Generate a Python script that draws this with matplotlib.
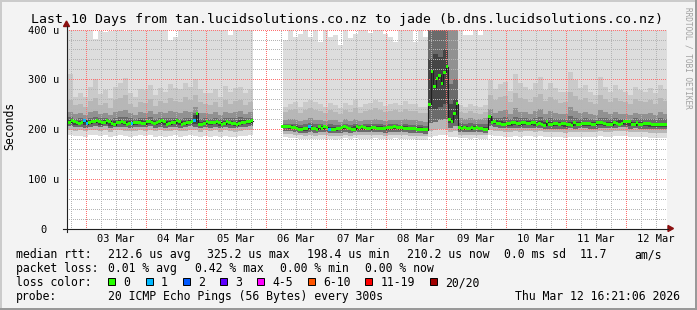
import numpy as np
import pandas as pd
import matplotlib
matplotlib.use("Agg")
import matplotlib.pyplot as plt
import matplotlib.dates as mdates
import matplotlib.transforms as mtrans
from matplotlib.patches import Polygon, Rectangle
from matplotlib.lines import Line2D

W, H = 697, 310
MONO = "DejaVu Sans Mono"

# ---------------- data ----------------
# median rtt per hour (us), first value is 2026-03-02 16:00, None = no data
median_rtt = [
    213, 214, 217, 216, 213, 212, 214, 218, 211, 213, 215, 215,
    217, 216, 213, 213, 218, 216, 212, 209, 214, 214, 215, 214,
    210, 212, 211, 214, 214, 214, 212, 211, 215, 216, 213, 212,
    214, 215, 217, 215, 210, 211, 213, 213, 217, 215, 210, 211,
    213, 214, 216, 217, 232, 210, 210, 212, 215, 214, 214, 213,
    215, 214, 210, 211, 215, 214, 212, 211, 209, 212, 213, 214,
    216, 215, 217,
] + [None] * 11 + [
    206, 206, 205, 205, 204, 203, 202, 200, 200, 201, 202, 205,
    202, 201, 200, 205, 202, 205, 204, 199, 200, 200, 201, 202,
    203, 205, 204, 201, 200, 200, 205, 204, 205, 204,
    202, 201, 204, 203, 202, 201, 202, 201, 203, 204, 204, 205,
    203, 204, 203, 202, 201, 202, 201, 201, 200, 200, 199, 198.4, 199,
    250, 316, 285, 302, 308, 291, 314, 325.2, 220, 215, 231, 251,
    203, 202, 203, 202, 201, 203, 202, 203, 201, 202, 200, 200,
    226,
    214, 215, 212, 212, 210, 210, 212, 211, 214, 213, 212, 211,
    214, 213, 212, 211, 214, 213, 210, 211, 209, 208, 215, 209,
    209, 211, 212, 210, 211, 211,
    210, 209, 208, 213, 210, 210, 211, 211, 212, 211, 210, 210,
    213, 213, 213, 211, 210, 210, 209, 214, 211, 210, 212, 216,
    215, 215, 210, 209, 213, 210, 210, 212, 211, 211, 210, 210,
    210, 210, 210, 210, 210.2,
]

# hours (index into median_rtt) with lost pings, loss in %
loss_hours = [7, 8, 26, 51, 97, 105]
loss_pct = [0.42, 0.42, 0.42, 0.42, 0.42, 0.42]

# smoke: sorted ping rtt (us) per 2 hour slot, first slot 2026-03-02 15:00
GAP = [None] * 6
ping_20 = ([450, 450, 450, 450, 450, 450, 382, 398, 396, 398, 450, 450, 397,
            450, 450, 450, 450, 450, 450, 450, 450, 380, 386, 450, 450, 450,
            450, 450, 450, 450, 450, 450, 450, 389, 450, 450, 450, 450] + GAP +
           [379, 450, 385, 392, 450, 386, 450, 376, 450, 385, 390, 369, 450,
            383, 392, 450, 450, 394, 450, 450, 392, 385, 376, 450, 450, 450,
            376, 450, 386] +
           [500] * 6 + [450, 389, 390, 450, 390, 450] + [450] * 36)
ping_19 = ([320, 310, 265, 272, 265, 285, 300, 270, 278, 262, 285, 292, 302,
            272, 264, 280, 278, 288, 268, 282, 275, 290, 282, 280, 292, 285,
            300, 280, 272, 272, 280, 265, 286, 275, 282, 285, 272, 280] + GAP +
           [245, 250, 255, 245, 255, 258, 255, 250, 245, 252, 248, 243, 252,
            248, 258, 245, 250, 253, 258, 254, 247, 250, 252, 249, 256, 250,
            250, 244, 245] +
           [500] * 6 + [248, 245, 250, 246, 244, 248] +
           [299, 280, 290, 295, 276, 310, 292, 285, 279, 292, 305, 279, 292,
            282, 275, 275, 315, 299, 282, 289, 275, 269, 305, 285, 275, 289,
            279, 275, 269, 285, 279, 275, 282, 272, 289, 280])
ping_18 = ([262, 258, 248, 250, 244, 256, 262, 248, 252, 242, 258, 262, 268,
            250, 244, 255, 252, 260, 246, 256, 252, 262, 256, 254, 264, 258,
            268, 254, 250, 248, 255, 244, 258, 250, 256, 258, 248, 254] + GAP +
           [234, 238, 240, 232, 238, 242, 238, 236, 232, 238, 235, 230, 238,
            234, 242, 232, 236, 238, 242, 238, 234, 236, 238, 235, 240, 236,
            236, 232, 232] +
           [500] * 6 + [234, 232, 236, 233, 231, 234] +
           [268, 258, 264, 266, 254, 272, 262, 260, 255, 264, 270, 256, 264,
            258, 252, 254, 275, 266, 258, 262, 254, 250, 268, 260, 254, 262,
            256, 254, 250, 260, 256, 254, 258, 250, 262, 256])
ping_16 = ([236, 234, 230, 232, 229, 234, 236, 231, 233, 228, 234, 236, 238,
            232, 229, 234, 232, 236, 230, 234, 232, 236, 234, 232, 236, 234,
            245, 232, 233, 231, 234, 229, 235, 232, 234, 236, 231, 234] + GAP +
           [218, 220, 221, 216, 219, 222, 219, 218, 216, 219, 218, 215, 220,
            217, 221, 216, 219, 219, 221, 219, 217, 218, 219, 218, 220, 218,
            218, 216, 215] +
           [500, 500, 500, 500, 450, 450] + [222, 221, 223, 221, 220, 222] +
           [240, 232, 236, 238, 230, 242, 235, 234, 231, 236, 240, 231, 236,
            233, 230, 230, 244, 236, 232, 234, 230, 228, 238, 234, 230, 235,
            231, 230, 228, 233, 231, 230, 232, 229, 235, 231])
ping_14 = ([224, 224, 221, 222, 221, 223, 224, 222, 223, 220, 223, 224, 224,
            222, 221, 223, 222, 224, 221, 223, 222, 223, 223, 221, 223, 223,
            232, 221, 222, 221, 223, 220, 223, 222, 222, 224, 222, 223] + GAP +
           [210, 211, 211, 208, 210, 212, 210, 210, 209, 210, 209, 208, 211,
            209, 211, 209, 210, 210, 211, 210, 209, 210, 210, 209, 210, 209,
            209, 208, 207] +
           [420, 430, 425, 430, 290, 300] + [212, 211, 212, 211, 210, 211] +
           [226, 222, 223, 224, 220, 225, 222, 222, 221, 222, 224, 220, 222,
            221, 220, 220, 226, 222, 221, 222, 220, 219, 223, 222, 220, 222,
            221, 220, 219, 222, 221, 220, 221, 220, 222, 220])
ping_12 = ([218, 219, 216, 217, 216, 218, 219, 217, 218, 215, 217, 218, 217,
            216, 216, 218, 217, 219, 216, 218, 216, 217, 218, 216, 217, 219,
            228, 215, 217, 216, 217, 215, 217, 216, 215, 218, 218, 219] + GAP +
           [209, 208, 207, 205, 204, 206, 205, 206, 206, 205, 204, 205, 207,
            205, 207, 206, 206, 206, 207, 206, 205, 206, 207, 206, 206, 205,
            205, 204, 203] +
           [340, 350, 345, 360, 250, 260] + [206, 206, 205, 206, 205, 204] +
           [222, 218, 216, 215, 214, 216, 215, 216, 216, 215, 216, 214, 214,
            214, 214, 213, 214, 214, 215, 215, 214, 214, 216, 215, 215, 216,
            218, 217, 214, 215, 214, 214, 213, 213, 213, 213])
ping_09 = ([210, 211, 209, 210, 208, 210, 212, 209, 211, 207, 210, 210, 209,
            208, 209, 210, 209, 211, 208, 210, 208, 209, 210, 208, 209, 211,
            210, 207, 210, 208, 210, 207, 210, 208, 207, 209, 210, 211] + GAP +
           [202, 201, 200, 198, 197, 199, 198, 199, 199, 198, 197, 198, 200,
            198, 200, 199, 199, 199, 200, 199, 198, 199, 200, 199, 199, 198,
            198, 197, 196] +
           [240, 240, 245, 250, 212, 218] + [199, 199, 198, 199, 198, 197] +
           [212, 210, 208, 207, 207, 208, 207, 208, 208, 207, 208, 206, 206,
            206, 206, 205, 207, 206, 207, 207, 206, 206, 208, 207, 207, 208,
            210, 209, 206, 207, 206, 206, 205, 205, 205, 205])
ping_06 = ([205, 206, 204, 205, 203, 205, 206, 204, 206, 202, 205, 205, 204,
            203, 204, 205, 204, 206, 203, 205, 203, 204, 205, 203, 204, 206,
            205, 202, 205, 203, 205, 202, 205, 203, 202, 204, 205, 206] + GAP +
           [197, 196, 195, 193, 192, 194, 193, 194, 194, 193, 192, 193, 195,
            193, 195, 194, 194, 194, 195, 194, 193, 194, 195, 194, 194, 193,
            193, 192, 191] +
           [212, 215, 218, 220, 203, 206] + [195, 195, 194, 195, 194, 193] +
           [206, 205, 203, 202, 202, 203, 202, 203, 203, 202, 203, 201, 201,
            201, 201, 200, 202, 201, 202, 202, 201, 201, 203, 202, 202, 203,
            205, 204, 201, 202, 201, 201, 200, 200, 200, 200])
ping_03 = ([198, 199, 197, 198, 196, 198, 199, 197, 199, 195, 198, 198, 197,
            196, 197, 198, 197, 199, 196, 198, 196, 197, 198, 196, 197, 199,
            198, 195, 198, 196, 198, 195, 198, 196, 195, 197, 198, 199] + GAP +
           [191, 190, 189, 188, 187, 188, 187, 188, 188, 187, 186, 187, 189,
            187, 189, 188, 188, 188, 189, 188, 187, 188, 189, 188, 188, 187,
            187, 186, 186] +
           [196, 198, 200, 200, 194, 196] + [189, 189, 188, 189, 188, 188] +
           [198, 197, 196, 195, 195, 196, 195, 196, 196, 195, 196, 194, 194,
            194, 194, 193, 195, 194, 195, 195, 194, 194, 196, 195, 195, 196,
            197, 196, 194, 195, 194, 194, 193, 193, 193, 193])
ping_01 = ([188, 189, 186, 187, 185, 188, 189, 186, 188, 184, 187, 188, 186,
            185, 186, 188, 186, 189, 185, 187, 185, 186, 188, 185, 186, 188,
            187, 184, 187, 185, 187, 184, 187, 185, 184, 186, 187, 188] + GAP +
           [184, 183, 182, 181, 180, 181, 180, 181, 181, 180, 179, 180, 182,
            180, 182, 181, 181, 181, 182, 181, 180, 181, 182, 181, 181, 180,
            180, 179, 179] +
           [185, 186, 188, 188, 184, 185] + [182, 182, 181, 182, 181, 181] +
           [188, 187, 186, 185, 185, 186, 185, 186, 186, 185, 186, 184, 184,
            184, 184, 183, 185, 184, 185, 185, 184, 184, 186, 185, 185, 186,
            187, 186, 184, 185, 184, 184, 183, 183, 183, 183])

y_ticks = [0, 100, 200, 300, 400]
y_tick_labels = ["0  ", "100 u", "200 u", "300 u", "400 u"]

loss_names = ["0", "1", "2", "3", "4-5", "6-10", "11-19", "20/20"]
loss_limits = [0, 1, 2, 3, 5, 10, 19, 20]
loss_colors = ["#26ff00", "#00b8ff", "#0059ff", "#5e00ff", "#ff00ff",
               "#ff5500", "#ff0000", "#a00000"]

title = "Last 10 Days from tan.lucidsolutions.co.nz to jade (b.dns.lucidsolutions.co.nz)"
legend_rows = [
    [(16, "median rtt:"), (107.6, "212.6 us avg"), (207.1, "325.2 us max"),
     (306.7, "198.4 us min"), (407.1, "210.2 us now"), (504, "0.0 ms sd"),
     (580, "11.7"), (634, "am/s")],
    [(16, "packet loss:"), (107.6, "0.01 % avg"), (194.7, "0.42 % max"),
     (280, "0.00 % min"), (365.3, "0.00 % now")],
    [(16, "loss color:")],
    [(16, "probe:"), (107.6, "20 ICMP Echo Pings (56 Bytes) every 300s")],
]
stamp = "Thu Mar 12 16:21:06 2026"
loss_box_x = [108.4, 145.8, 182.7, 220, 256.9, 307.6, 365.3, 430.2]
legend_base = [258, 272, 286, 300]

# ---------------- figure ----------------
fig = plt.figure(figsize=(W / 100, H / 100), dpi=100)
fig.patch.set_facecolor("#f3f3f3")
pix = mtrans.Affine2D().scale(1 / W, -1 / H).translate(0, 1) + fig.transFigure

ax_l, ax_r, ax_t, ax_b = 66.6, 666.6, 29.6, 228.6
ax = fig.add_axes([ax_l / W, 1 - ax_b / H, (ax_r - ax_l) / W, (ax_b - ax_t) / H])
ax.set_facecolor("white")
for s in ax.spines.values():
    s.set_visible(False)

t0 = mdates.date2num(pd.Timestamp("2026-03-02 16:21:06"))
t1 = mdates.date2num(pd.Timestamp("2026-03-12 16:21:06"))
ax.set_xlim(t0, t1)
ax.set_ylim(0, 400)

hours = mdates.date2num(pd.date_range("2026-03-02 16:00", periods=len(median_rtt), freq="h").to_pydatetime())
slots = mdates.date2num(pd.date_range("2026-03-02 15:00", periods=len(ping_20), freq="2h").to_pydatetime())

# smoke
bands = [(ping_01, ping_20, "#dddddd"), (ping_03, ping_19, "#cacaca"),
         (ping_03, ping_18, "#b7b7b7"), (ping_06, ping_16, "#919191"),
         (ping_06, ping_14, "#6b6b6b"), (ping_09, ping_12, "#454545")]
for lo, hi, col in bands:
    lo = np.array(lo, float)
    hi = np.array(hi, float)
    ok = ~np.isnan(lo)
    ax.bar(slots[ok], hi[ok] - lo[ok], bottom=lo[ok], width=2 / 24, align="edge",
           color=col, linewidth=0, antialiased=False, zorder=1)

# grid (dotted, drawn over the smoke)
days = pd.date_range("2026-03-03", "2026-03-12", freq="D")
six_h = [t for t in pd.date_range("2026-03-02 18:00", "2026-03-12 12:00", freq="6h") if t.hour != 0]
dots = (0.5, (1, 1))
for x in mdates.date2num(six_h):
    ax.axvline(x, color="#b4b4b4", ls=dots, lw=0.72, zorder=3)
for v in range(20, 400, 20):
    if v % 100:
        ax.axhline(v, color="#b4b4b4", ls=dots, lw=0.72, zorder=3)
for x in mdates.date2num(days.to_pydatetime()):
    ax.axvline(x, color="#ff7070", ls=dots, lw=0.72, zorder=3.5)
for v in y_ticks[1:]:
    ax.axhline(v, color="#ff7070", ls=dots, lw=0.72, zorder=3.5)

# median: thin dark line plus loss coloured blocks
med = np.array(median_rtt, float)
ax.plot(np.append(hours, hours[-1] + 1 / 24), np.append(med, med[-1]),
        drawstyle="steps-post", color="#202020", lw=0.8, zorder=4)


def loss_color(pct):
    lost = pct / 100 * 20
    for lim, col in zip(loss_limits, loss_colors):
        if lost <= lim:
            return col
    return loss_colors[-1]


cols = [loss_colors[0]] * len(med)
for h, p in zip(loss_hours, loss_pct):
    cols[h] = loss_color(p)
ok = ~np.isnan(med)
ax.bar(hours[ok], 6, bottom=med[ok] - 3, width=1 / 24, align="edge",
       color=[c for c, k in zip(cols, ok) if k], linewidth=0, antialiased=False, zorder=5)

# ticks
noon = days + pd.Timedelta(hours=12)
ax.set_xticks(mdates.date2num(noon.to_pydatetime()), [d.strftime("%d %b") for d in days])
ax.set_yticks(y_ticks, y_tick_labels)
ax.tick_params(length=0, labelsize=7.5, pad=4)
ax.tick_params(axis="y", pad=5)
for lab in ax.get_xticklabels() + ax.get_yticklabels():
    lab.set_family(MONO)

# axes lines and arrows
fig.add_artist(Line2D([63, 668], [228.5, 228.5], color="#202020", lw=0.8, transform=pix))
fig.add_artist(Line2D([66.5, 66.5], [231.5, 26], color="#202020", lw=0.8, transform=pix))
fig.add_artist(Polygon([[668, 225.5], [668, 231.5], [673.5, 228.5]], closed=True,
                       color="#8b1010", transform=pix))
fig.add_artist(Polygon([[63.5, 26.5], [69.5, 26.5], [66.5, 21]], closed=True,
                       color="#8b1010", transform=pix))

# frame shading
fig.add_artist(Rectangle((0, 0), W, 2, color="#cbcbcb", transform=pix, lw=0))
fig.add_artist(Rectangle((0, 0), 2, H, color="#cbcbcb", transform=pix, lw=0))
fig.add_artist(Rectangle((0, H - 2), W, 2, color="#999999", transform=pix, lw=0))
fig.add_artist(Rectangle((W - 2, 0), 2, H, color="#999999", transform=pix, lw=0))

# texts
fig.text(347, 19.5, title, transform=pix, ha="center", va="center", family=MONO, fontsize=9.5)
fig.text(10, 126, "Seconds", transform=pix, ha="center", va="center", rotation=90,
         family=MONO, fontsize=8.3)
fig.text(688, 58, "RRDTOOL / TOBI OETIKER", transform=pix, ha="center", va="center",
         rotation=270, family=MONO, fontsize=5.6, color="#a0a0a0")

for row, base in zip(legend_rows, legend_base):
    for x, s in row:
        fig.text(x, base, s, transform=pix, ha="left", va="baseline", family=MONO, fontsize=8.3)
fig.text(680, legend_base[3], stamp, transform=pix, ha="right", va="baseline", family=MONO, fontsize=8.3)

for bx, name, col in zip(loss_box_x, loss_names, loss_colors):
    fig.add_artist(Rectangle((bx, legend_base[2] - 8), 7, 7, facecolor=col, edgecolor="black",
                             lw=0.7, transform=pix))
    fig.text(bx + 15.2, legend_base[2], name, transform=pix, ha="left", va="baseline",
             family=MONO, fontsize=8.3)

fig.savefig("out.png", dpi=100)
